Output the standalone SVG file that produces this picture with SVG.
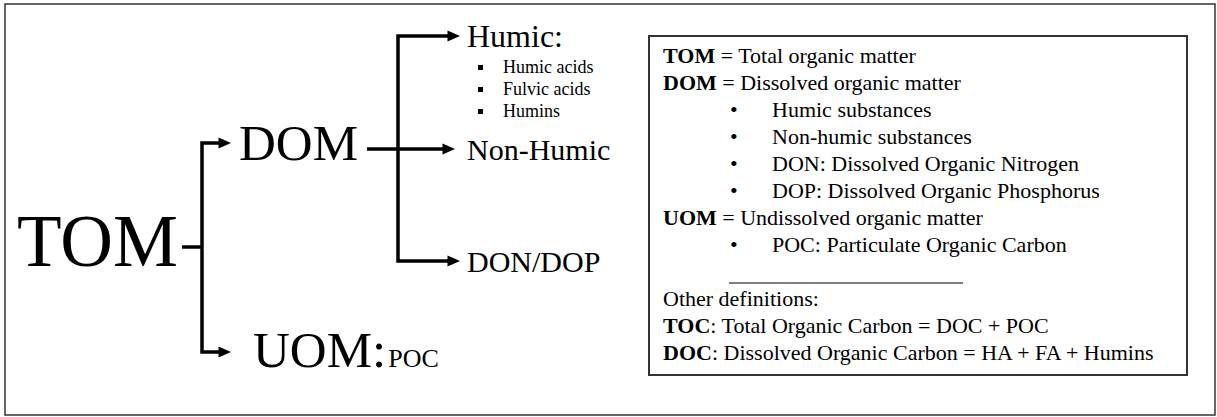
<svg xmlns="http://www.w3.org/2000/svg" width="1217" height="417" viewBox="0 0 1217 417">
<defs>
<style>
text{font-family:"Liberation Serif","Times New Roman",serif;fill:#000}
.big{font-size:73px}
.mid{font-size:51px}
.sub{font-size:30px}
.item{font-size:18px}
.def{font-size:22px}
.b{font-weight:bold}
.conn{fill:none;stroke:#000;stroke-width:3.5;stroke-linejoin:miter}
.frame{fill:#fff;stroke:#333;stroke-width:1.5}
.box{fill:#fff;stroke:#333;stroke-width:2}
</style>
<marker id="arr" markerUnits="userSpaceOnUse" markerWidth="14" markerHeight="12" viewBox="0 0 13 12" refX="0.5" refY="6" orient="auto-start-reverse">
<path d="M0,0.5 L12.5,6 L0,11.5 Z" fill="#000"/>
</marker>
</defs>
<rect class="frame" x="5" y="4" width="1210" height="411"/>
<g id="connectors">
<path class="conn" d="M182,247 H202"/>
<path class="conn" d="M219,143 H202 V352 H219" marker-start="url(#arr)" marker-end="url(#arr)"/>
<path class="conn" d="M367,149 H398"/>
<path class="conn" d="M448,36 H398 V261 H448" marker-start="url(#arr)" marker-end="url(#arr)"/>
<path class="conn" d="M398,149 H443" marker-end="url(#arr)"/>
</g>
<g id="node-tom"><text class="big" x="17" y="266">TOM</text></g>
<g id="node-dom"><text class="mid" x="239" y="160">DOM</text></g>
<g id="node-uom"><text class="mid" x="253" y="367">UOM:<tspan font-size="26" dx="2">POC</tspan></text></g>
<g id="node-humic">
<text x="467" y="47" font-size="32">Humic:</text>
<rect x="478" y="65" width="5" height="5"/>
<rect x="478" y="87" width="5" height="5"/>
<rect x="478" y="109" width="5" height="5"/>
<text class="item" x="503" y="73">Humic acids</text>
<text class="item" x="503" y="95">Fulvic acids</text>
<text class="item" x="503" y="117">Humins</text>
</g>
<g id="node-nonhumic"><text class="sub" x="467" y="160">Non-Humic</text></g>
<g id="node-dondop"><text class="sub" x="467" y="272" font-size="29">DON/DOP</text></g>
<g id="legend">
<rect class="box" x="649" y="36" width="538" height="339"/>
<text class="def" x="663" y="63"><tspan class="b">TOM</tspan> = Total organic matter</text>
<text class="def" x="663" y="90"><tspan class="b">DOM</tspan> = Dissolved organic matter</text>
<text class="def" x="730" y="117">•</text><text class="def" x="772" y="117">Humic substances</text>
<text class="def" x="730" y="144">•</text><text class="def" x="772" y="144">Non-humic substances</text>
<text class="def" x="730" y="171">•</text><text class="def" x="772" y="171">DON: Dissolved Organic Nitrogen</text>
<text class="def" x="730" y="198">•</text><text class="def" x="772" y="198">DOP: Dissolved Organic Phosphorus</text>
<text class="def" x="663" y="225"><tspan class="b">UOM</tspan> = Undissolved organic matter</text>
<text class="def" x="730" y="252">•</text><text class="def" x="772" y="252">POC: Particulate Organic Carbon</text>
<line x1="729" y1="283" x2="963" y2="283" stroke="#000" stroke-width="1"/>
<text class="def" x="663" y="306">Other definitions:</text>
<text class="def" x="663" y="333"><tspan class="b">TOC</tspan>: Total Organic Carbon = DOC + POC</text>
<text class="def" x="663" y="360"><tspan class="b">DOC</tspan>: Dissolved Organic Carbon = HA + FA + Humins</text>
</g>
</svg>
